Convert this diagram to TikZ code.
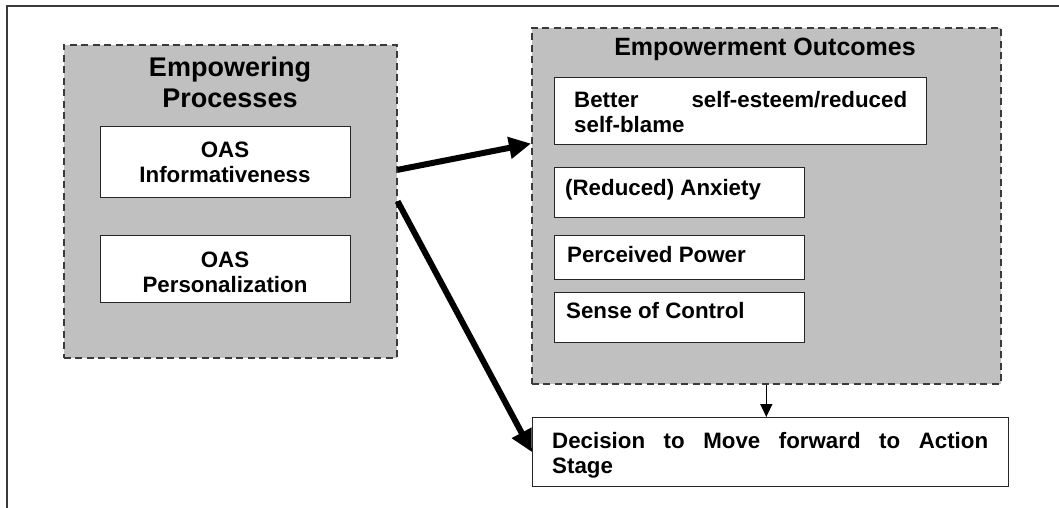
\documentclass[tikz,border=0pt]{standalone}
\usepackage{fontspec}
\setmainfont{Liberation Sans}
\usetikzlibrary{arrows.meta,calc}
\definecolor{grp}{HTML}{C0C0C0}
\definecolor{frm}{HTML}{3A3A3A}
\begin{document}
\begin{tikzpicture}[x=1pt,y=-1pt,
  group/.style={draw=frm, line width=1.6pt, dash pattern=on 7pt off 4.5pt, fill=grp, inner sep=0pt, anchor=north west},
  item/.style={draw=black!85, line width=1.3pt, fill=white, inner sep=0pt, anchor=north west},
  txt/.style={font=\bfseries\fontsize{22.3}{25}\selectfont, inner sep=0pt},
  bigtitle/.style={font=\bfseries\fontsize{27}{31}\selectfont, inner sep=0pt},
  bigarrow/.style={line width=6pt, -{Triangle[length=22pt,width=21pt]}},
  smallarrow/.style={line width=1.5pt, -{Triangle[length=13pt,width=12pt]}}]
\useasboundingbox (0,0) rectangle (1059,508);
\fill[white] (0,0) rectangle (1059,508);
\draw[frm, line width=2pt] (7,508) -- (7,6) -- (1059,6);

% left group
\node[group, minimum width=333pt, minimum height=313pt] (proc) at (63,44) {};
\node[bigtitle, anchor=base, align=center] (ptitle) at (230,108) {Empowering\\Processes};
\node[item, minimum width=250pt, minimum height=71pt] (info) at (100,126) {};
\node[txt, anchor=base, align=center] (infot) at (225,182) {OAS\\Informativeness};
\node[item, minimum width=250pt, minimum height=67pt] (pers) at (100,235) {};
\node[txt, anchor=base, align=center] (perst) at (225,292) {OAS\\Personalization};

% right group
\node[group, minimum width=469pt, minimum height=356pt] (out) at (531,27) {};
\node[bigtitle, font=\bfseries\fontsize{25}{29}\selectfont, anchor=base] (otitle) at (765,56) {Empowerment Outcomes};
\node[item, minimum width=372pt, minimum height=67pt] (better) at (554,77) {};
\node[txt, anchor=base west, text width=333pt, align=left] (bettert) at (574,107) {Better\hfill self-esteem/reduced\\self-blame};
\node[item, minimum width=250pt, minimum height=50pt] (anx) at (554,167) {};
\node[txt, anchor=base west] (anxt) at (565,195) {(Reduced) Anxiety};
\node[item, minimum width=250pt, minimum height=44pt] (pow) at (554,235) {};
\node[txt, anchor=base west] (powt) at (567,262) {Perceived Power};
\node[item, minimum width=250pt, minimum height=50pt] (ctrl) at (554,292) {};
\node[txt, anchor=base west] (ctrlt) at (566,318) {Sense of Control};

% decision
\node[item, minimum width=476pt, minimum height=69pt] (dec) at (532,417) {};
\node[txt, anchor=base west, text width=436pt, align=left] (dect) at (552,448) {Decision\hfill to\hfill Move\hfill forward\hfill to\hfill Action\\Stage};

% arrows
\coordinate (a1s) at ($(proc.north east)!0.4!(proc.south east)$);
\coordinate (a1e) at ($(out.north west)!0.326!(out.south west)$);
\draw[bigarrow] (a1s) -- (a1e);
\draw[bigarrow] (proc.east) -- (dec.west);
\draw[smallarrow] (out.south) -- (out.south |- dec.north);
\end{tikzpicture}
\end{document}
